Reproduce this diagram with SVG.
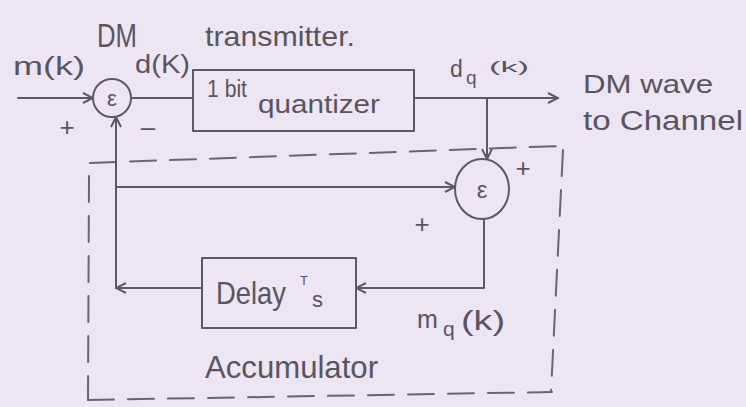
<svg xmlns="http://www.w3.org/2000/svg" width="746" height="407" viewBox="0 0 746 407">
<style>
.ink{fill:none;stroke:#5e5866;stroke-width:2;stroke-linecap:round;stroke-linejoin:round}
.dash{fill:none;stroke:#6a6472;stroke-width:2;stroke-dasharray:26 14;stroke-linecap:round}
text{font-family:"Liberation Sans","DejaVu Sans",sans-serif;fill:#5a5462}
</style>
<defs>
<marker id="ah" viewBox="0 0 12 12" refX="11" refY="6" markerWidth="12" markerHeight="12" markerUnits="userSpaceOnUse" orient="auto">
<path d="M1,1 L11,6 L1,11" fill="none" stroke="#5e5866" stroke-width="2"/>
</marker>
</defs>
<rect width="746" height="407" fill="#eee5f4"/>

<g id="title">
<text x="97" y="47" font-size="34" textLength="40" lengthAdjust="spacingAndGlyphs">DM</text>
<text x="205" y="46" font-size="28" textLength="150" lengthAdjust="spacingAndGlyphs">transmitter.</text>
</g>

<g id="sum1">
<circle cx="112" cy="98" r="19" class="ink"/>
<text x="112" y="106" font-size="22" text-anchor="middle">ε</text>
</g>

<g id="quantizer">
<rect x="193" y="70" width="221" height="61" class="ink"/>
<text x="207" y="97" font-size="23" textLength="40" lengthAdjust="spacingAndGlyphs">1 bit</text>
<text x="258" y="113" font-size="25" textLength="122" lengthAdjust="spacingAndGlyphs">quantizer</text>
</g>

<g id="sum2">
<ellipse cx="482" cy="189" rx="27" ry="30" class="ink"/>
<text x="482" y="198" font-size="24" text-anchor="middle">ε</text>
</g>

<g id="delay">
<rect x="202" y="258" width="154" height="70" class="ink"/>
<text x="216" y="304" font-size="32" textLength="70" lengthAdjust="spacingAndGlyphs">Delay</text>
<text x="300" y="285" font-size="13">T</text>
<text x="312" y="307" font-size="22">s</text>
</g>

<g id="accumulator">
<path d="M90,163 L560,146" class="dash"/>
<path d="M89,176 L88,400" class="dash"/>
<path d="M88,400 L552,392" class="dash"/>
<path d="M563,150 L551,392" class="dash"/>
<text x="205" y="378" font-size="32" textLength="173" lengthAdjust="spacingAndGlyphs">Accumulator</text>
</g>

<g id="connectors">
<path d="M18,98 L93,98" class="ink" marker-end="url(#ah)"/>
<path d="M131,98 L193,98" class="ink"/>
<path d="M414,98 L558,98" class="ink" marker-end="url(#ah)"/>
<path d="M487,98 L487,159" class="ink" marker-end="url(#ah)"/>
<path d="M116,187 L455,187" class="ink" marker-end="url(#ah)"/>
<path d="M484,219 L484,288 L356,288" class="ink" marker-end="url(#ah)"/>
<path d="M202,288 L116,288" class="ink" marker-end="url(#ah)"/>
<path d="M116,288 L116,117" class="ink" marker-end="url(#ah)"/>
</g>

<g id="labels">
<text x="13" y="75" font-size="25" textLength="72" lengthAdjust="spacingAndGlyphs">m(k)</text>
<text x="135" y="73" font-size="25" textLength="55" lengthAdjust="spacingAndGlyphs">d(K)</text>
<text x="67" y="136" font-size="26" text-anchor="middle">+</text>
<text x="148" y="136" font-size="26" text-anchor="middle">–</text>
<text x="450" y="77" font-size="23">d</text>
<text x="466" y="84" font-size="19">q</text>
<text x="489" y="72" font-size="15" textLength="40" lengthAdjust="spacingAndGlyphs">(k)</text>
<text x="583" y="93" font-size="25" textLength="130" lengthAdjust="spacingAndGlyphs">DM wave</text>
<text x="583" y="130" font-size="27" textLength="160" lengthAdjust="spacingAndGlyphs">to Channel</text>
<text x="523" y="177" font-size="26" text-anchor="middle">+</text>
<text x="422" y="233" font-size="26" text-anchor="middle">+</text>
<text x="417" y="328" font-size="25">m</text>
<text x="443" y="336" font-size="21">q</text>
<text x="461" y="330" font-size="28" textLength="44" lengthAdjust="spacingAndGlyphs">(k)</text>
</g>
</svg>
